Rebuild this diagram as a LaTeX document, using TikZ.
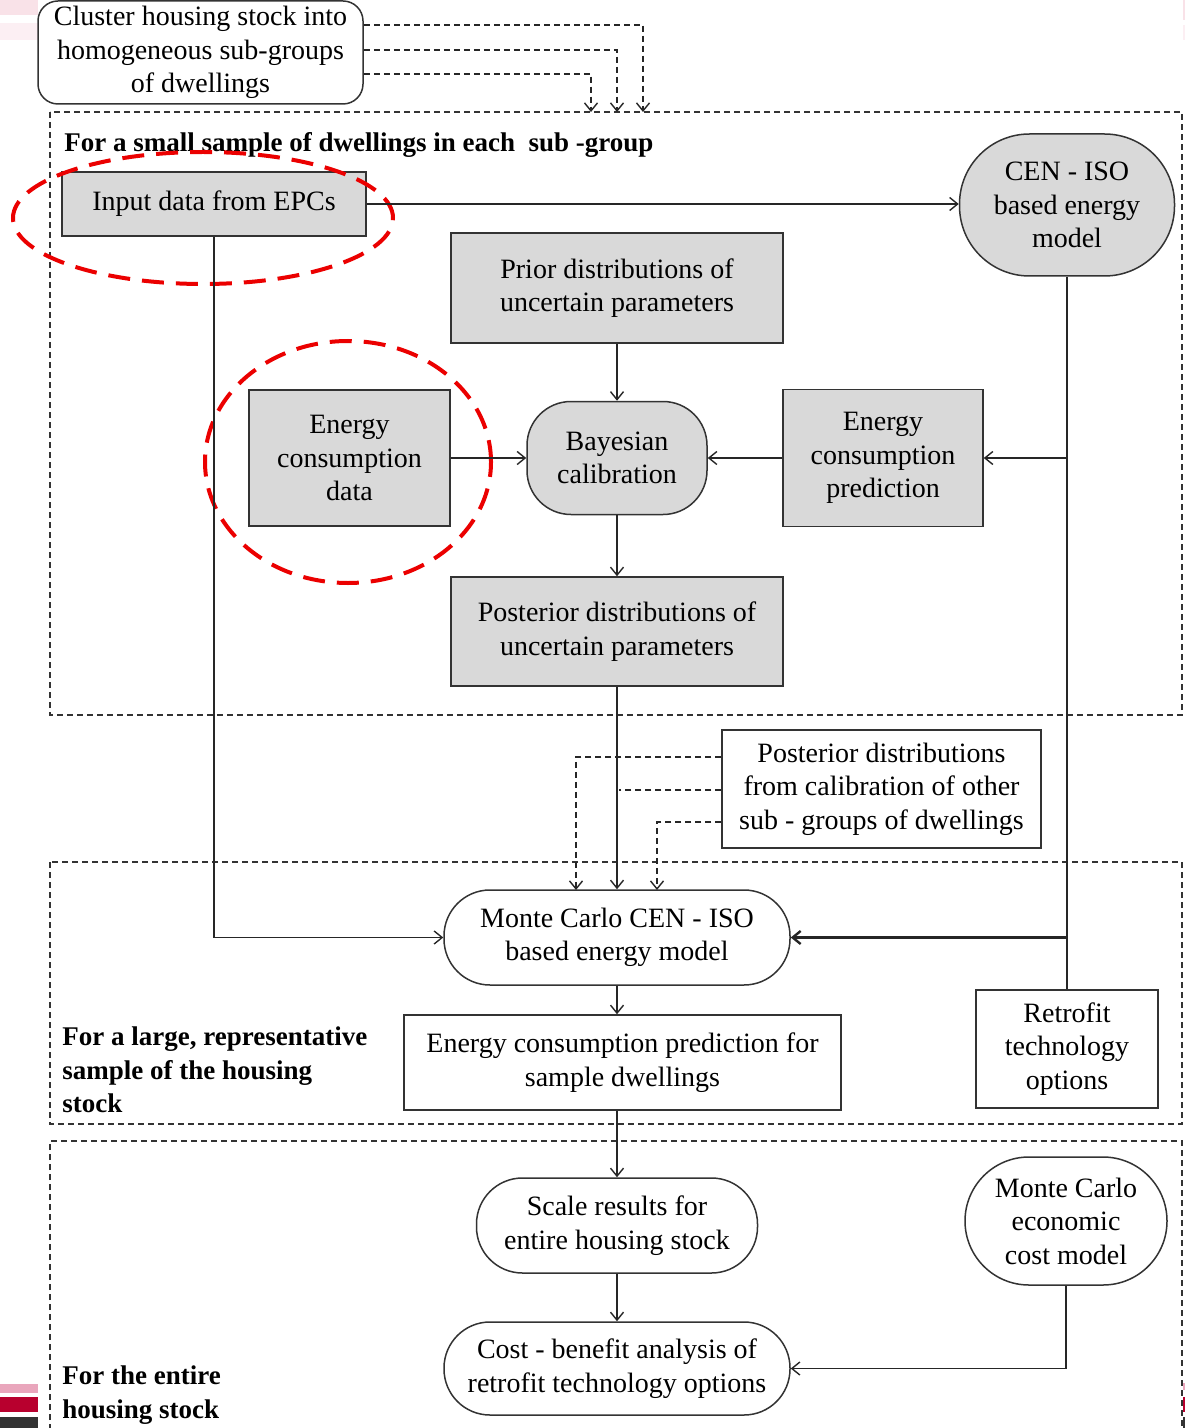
\documentclass[tikz,border=0pt]{standalone}
\usepackage{fontspec}
\setmainfont{Liberation Serif}
\usetikzlibrary{arrows.meta}
\newcommand\fs{\fontsize{14}{16.75}\selectfont}
\newcommand\fsb{\fontsize{13.5}{16.75}\selectfont\bfseries}
\tikzset{
  base/.style={font=\fs, text=black, inner sep=0pt, align=center, draw=black!80, line width=0.75pt},
  gbox/.style={base, fill=gray!30},
  wbox/.style={base, fill=white},
  sz/.style 2 args={minimum width=#1*0.5pt, minimum height=#2*0.5pt},
  arr/.style={-{Straight Barb[length=4pt,width=6.5pt]}, line width=0.7pt, draw=black!85},
  darr/.style={arr, dash pattern=on 3pt off 2pt},
  dline/.style={line width=0.7pt, draw=black!85, dash pattern=on 3pt off 2pt},
  line/.style={line width=0.7pt, draw=black!85},
  region/.style={draw=black!80, line width=0.6pt, dash pattern=on 3pt off 2pt},
  rlabel/.style={font=\fsb, text=black, inner sep=0pt, align=left, anchor=west},
  reddash/.style={draw=red!92!black, line width=2pt, dash pattern=on 11pt off 6pt}
}
\begin{document}
\begin{tikzpicture}[x=0.5pt,y=-0.5pt]
\useasboundingbox (0,0) rectangle (1185,1428);
% edge decorations
\fill[pink!50!purple!18] (0,0) rectangle (38,15);
\fill[pink!40!purple!9] (0,23) rectangle (38,40);
\fill[purple!35!white] (0,1384) rectangle (38,1393);
\fill[purple!80!red!90!black] (0,1397) rectangle (38,1412);
\fill[black!80] (0,1417) rectangle (38,1428);
\fill[pink!50!purple!18] (1183,0) rectangle (1185,20);
\fill[pink!40!purple!9] (1183,25) rectangle (1185,40);
\fill[purple!35!white] (1183,1383) rectangle (1185,1390);
\fill[purple!80!red!90!black] (1183,1397) rectangle (1185,1412);
\fill[black!80] (1183,1417) rectangle (1185,1428);

% regions
\draw[region] (50,112) rectangle (1182,715);
\draw[region] (50,862) rectangle (1182,1124);
\draw[region] (50,1430) -- (50,1141) -- (1182,1141) -- (1182,1430);

\node[rlabel] (lab1) at (64,145) {For a small sample of dwellings in each\ \ sub -group};
\node[rlabel] (lab2) at (62,1070) {For a large, representative\\sample of the housing\\stock};
\node[rlabel] (lab3) at (62,1395) {For the entire\\housing stock};

% nodes
\node[wbox, sz={325}{103}, rounded corners=10pt] (cluster) at (200.5,52.5) {Cluster housing stock into\\homogeneous sub-groups\\of dwellings};
\node[gbox, sz={304}{64}] (input) at (214,204) {Input data from EPCs};
\node[gbox, sz={215}{142}, rounded corners=35pt] (ceniso) at (1067,205) {CEN - ISO\\based energy\\model};
\node[gbox, sz={332}{110}] (prior) at (617,288) {Prior distributions of\\uncertain parameters};
\node[gbox, sz={180}{113}, rounded corners=22pt] (bayes) at (617,458) {Bayesian\\calibration};
\node[gbox, sz={201}{136}] (ecd) at (349.5,458) {Energy\\consumption\\data};
\node[gbox, sz={200}{137}] (ecp) at (883,458) {Energy\\consumption\\prediction};
\node[gbox, sz={332}{109}] (post) at (617,631.5) {Posterior distributions of\\uncertain parameters};
\node[wbox, sz={319}{118}] (pother) at (881.5,789) {Posterior distributions\\from calibration of other\\sub - groups of dwellings};
\node[wbox, sz={346}{95}, rounded corners=23pt] (mc) at (617,937.5) {Monte Carlo CEN - ISO\\based energy model};
\node[wbox, sz={437}{95}] (ecpfs) at (622.5,1062.5) {Energy consumption prediction for\\sample dwellings};
\node[wbox, sz={182}{118}] (retro) at (1067,1049) {Retrofit\\technology\\options};
\node[wbox, sz={281}{95}, rounded corners=23pt] (scale) at (617,1225.5) {Scale results for\\entire housing stock};
\node[wbox, sz={346}{93}, rounded corners=23pt] (cba) at (617,1368.5) {Cost - benefit analysis of\\retrofit technology options};
\node[wbox, sz={202}{128}, rounded corners=32pt] (mcec) at (1066,1221) {Monte Carlo\\economic\\cost model};

% red highlight ellipses
\draw[reddash] (203,218) ellipse [x radius=95pt, y radius=33pt];
\draw[reddash] (348,462) ellipse [x radius=71.5pt, y radius=60.5pt];

% cluster dashed arrows
\coordinate (c1) at (0,25);
\coordinate (c2) at (0,50);
\coordinate (c3) at (0,74);
\coordinate (t1) at (643,112);
\coordinate (t2) at (617,112);
\coordinate (t3) at (591,112);
\draw[darr] (cluster.east |- c1) -| (t1);
\draw[darr] (cluster.east |- c2) -| (t2);
\draw[darr] (cluster.east |- c3) -| (t3);

% connectors
\draw[arr] (input.east) -- (input.east -| ceniso.west);
\draw[arr] (prior.south) -- (bayes.north);
\draw[arr] (ecd.east) -- (bayes.west);
\draw[arr] (ecp.west) -- (bayes.east);
\draw[line] (ceniso.south) -- (retro.north);
\draw[arr] (ceniso.south |- ecp.east) -- (ecp.east);
\draw[arr] (bayes.south) -- (post.north);
\draw[arr] (post.south) -- (mc.north);
\draw[arr] (input.south) |- (mc.west);
\draw[arr, line width=1.2pt] (ceniso.south |- mc.east) -- (mc.east);

% dashed from other posteriors
\coordinate (p1) at (0,757);
\coordinate (p2) at (0,790);
\coordinate (p3) at (0,822);
\coordinate (a1) at (576,890);
\coordinate (a2) at (619,790);
\coordinate (a3) at (657,890);
\draw[darr] (pother.west |- p1) -| (a1);
\draw[dline] (pother.west |- p2) -- (a2);
\draw[darr] (pother.west |- p3) -| (a3);

\draw[arr] (mc.south) -- (mc.south |- ecpfs.north);
\draw[arr] (scale.north |- ecpfs.south) -- (scale.north);
\draw[arr] (scale.south) -- (cba.north);
\draw[arr] (mcec.south) |- (cba.east);
\end{tikzpicture}
\end{document}
